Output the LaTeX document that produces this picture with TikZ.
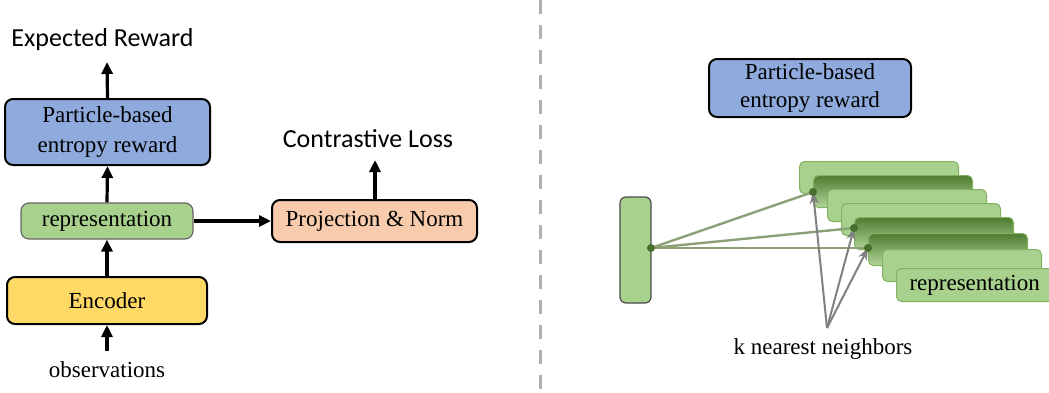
\documentclass[tikz,border=0pt]{standalone}
\usepackage{fontspec}
\setmainfont{Liberation Serif}
\newfontfamily\calibrifont{Carlito}
\usepackage{xcolor}
\usetikzlibrary{arrows.meta, calc, positioning, shapes.geometric}

\definecolor{rewardblue}{RGB}{143,170,220}
\definecolor{repgreen}{RGB}{169,209,142}
\definecolor{repedge}{RGB}{128,178,96}
\definecolor{repdark}{RGB}{78,124,48}
\definecolor{encyellow}{RGB}{255,217,102}
\definecolor{projorange}{RGB}{248,203,173}
\definecolor{linkgreen}{RGB}{140,160,120}
\definecolor{dotgreen}{RGB}{70,110,45}
\definecolor{sepgray}{RGB}{176,176,176}

\begin{document}
\begin{tikzpicture}[x=0.5pt, y=-0.5pt,
  box/.style={draw=black, line width=1pt, rounded corners=4pt, align=center, inner sep=0pt,
    font=\fontsize{11.5}{15}\selectfont},
  card/.style={draw=repedge, line width=0.5pt, rounded corners=2.5pt, fill=repgreen,
    minimum width=79.5pt, minimum height=16pt, inner sep=0pt, anchor=north west},
  darkcard/.style={card, top color=repdark, bottom color=repgreen!90},
  flow/.style={-{Triangle[length=6pt,width=5.5pt]}, line width=1.6pt, black},
  link/.style={linkgreen, line width=1.2pt},
  pick/.style={-{Stealth[length=6pt,width=4.5pt]}, gray, line width=1pt},
  label/.style={font=\calibrifont\fontsize{13}{15}\selectfont, inner sep=0pt}]

\useasboundingbox (0,0) rectangle (1049,392);

% Left: pipeline
\node[box, fill=rewardblue, minimum width=102.5pt, minimum height=33pt] (reward) at (107.5,132) {Particle-based\\entropy reward};
\node[box, fill=repgreen, draw=black!60, line width=0.6pt, minimum width=86pt, minimum height=18pt] (rep) at (107,221) {representation};
\node[box, fill=encyellow, minimum width=100pt, minimum height=23.5pt] (enc) at (107,300.5) {Encoder};
\node[box, fill=projorange, minimum width=102.5pt, minimum height=21pt] (proj) at (374.5,221) {Projection \& Norm};

\node[label] (expected) at (102.5,40) {Expected Reward};
\node[label] (contrast) at (368,139) {Contrastive Loss};
\node[inner sep=0pt, font=\fontsize{11.5}{13}\selectfont] (obs) at (107,370) {observations};

\coordinate (rewtop) at (107,62);
\coordinate (projtop) at (375,160);
\coordinate (obstop) at (107,351);

\draw[flow] (reward.north) -- (rewtop);
\draw[flow] (rep.north) -- (reward.south);
\draw[flow] (enc.north) -- (rep.south);
\draw[flow] (obstop) -- (enc.south);
\draw[flow] (rep.east) -- (proj.west);
\draw[flow] (proj.north -| projtop) -- (projtop);

% Separator
\draw[sepgray, line width=1.5pt, dash pattern=on 7pt off 5.5pt] (540.5,0) -- (540.5,392);

% Right: kNN in representation space
\node[box, fill=rewardblue, minimum width=101pt, minimum height=29pt, font=\fontsize{11.5}{14}\selectfont] (reward2) at (810,88) {Particle-based\\entropy reward};

\node[draw=black!70, line width=0.6pt, fill=repgreen, rounded corners=3pt, minimum width=15.5pt,
  minimum height=53pt, inner sep=0pt] (query) at (635.5,250) {};

% Stack of samples
\foreach \i/\x/\y/\s in {1/799/161/card, 2/813/175/darkcard, 3/827/189/card, 4/841/203/card,
                        5/854/217/darkcard, 6/868/233/darkcard, 7/882/249/card} {
  \node[\s] (card\i) at (\x,\y) {};
}
\node[card, minimum height=16.5pt, text width=79.5pt, align=left, font=\fontsize{11.5}{13}\selectfont] (card8) at (896,268) {\hspace*{6.5pt}representation};

\coordinate (q) at (651,248);
\coordinate (nn1) at (813,192);
\coordinate (nn2) at (854,228);
\coordinate (nn3) at (868,248);
\coordinate (knn) at (827,328);

\foreach \n in {nn1,nn2,nn3} {
  \draw[link] (q) -- (\n);
}
\foreach \n in {nn1,nn2,nn3} {
  \draw[pick] (knn) -- (\n);
}
\foreach \p in {q,nn1,nn2,nn3} {
  \fill[dotgreen] (\p) circle (2pt);
}

\node[inner sep=0pt, font=\fontsize{11.5}{13}\selectfont] (knnlabel) at (823,349) {k nearest neighbors};
\end{tikzpicture}
\end{document}
